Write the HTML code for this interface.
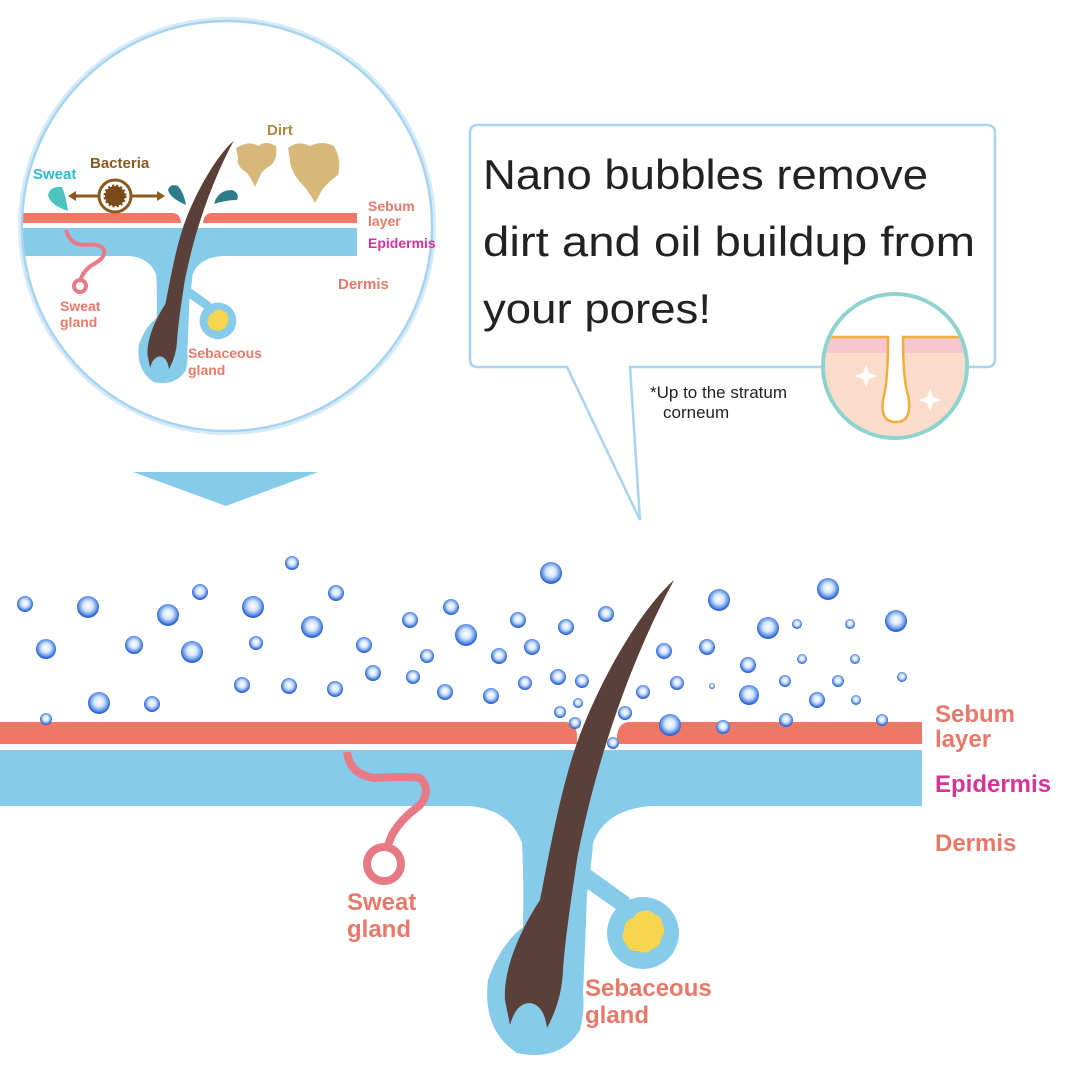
<!DOCTYPE html>
<html><head><meta charset="utf-8"><style>
html,body{margin:0;padding:0;background:#fff}
svg{display:block}
text{font-family:"Liberation Sans",sans-serif;font-weight:bold}
</style></head><body>
<svg width="1080" height="1080" viewBox="0 0 1080 1080" xmlns="http://www.w3.org/2000/svg">
<defs>
<radialGradient id="bub" cx="0.5" cy="0.45" r="0.5">
<stop offset="0" stop-color="#ffffff"/><stop offset="0.45" stop-color="#d6e6fa"/><stop offset="0.85" stop-color="#5a8fe6"/><stop offset="1" stop-color="#2f62d0"/>
</radialGradient>
<clipPath id="cc"><circle cx="227" cy="226" r="204"/></clipPath>
<clipPath id="sc"><circle cx="895" cy="366" r="70"/></clipPath>
<g id="foll">
<path d="M470 806 Q510 810 522 843 Q524 880 523 927 Q500 945 488 980 Q482 1030 517 1053 Q560 1062 580 1030 Q585 1010 583 993 Q585 950 587 893 Q592 860 593 843 Q605 810 650 806Z" fill="#87cbea"/>
<path d="M588 868 L630 898 L620 912 L586 888Z" fill="#87cbea"/>
<circle cx="643" cy="933" r="36" fill="#87cbea"/>
<path d="M640 912 q8 -4 14 2 q8 2 8 10 q5 8 -1 14 q0 9 -9 11 q-6 6 -14 2 q-9 1 -12 -7 q-6 -6 -2 -14 q0 -10 9 -12 q4 -6 7 -6z" fill="#f8d54e"/>
<path d="M674 580 C640 610 600 680 578 740 C560 790 548 860 540 900 C520 930 503 970 505 1000 L510 1025 Q516 1003 530 1003 Q544 1005 547 1028 Q562 1000 563 970 C565 940 571 900 577 860 C590 790 620 680 674 580Z" fill="#5a4038"/>
</g>
</defs>

<!-- top circle -->
<circle cx="227" cy="226" r="206" fill="none" stroke="#d6ebf9" stroke-width="6"/>
<circle cx="227" cy="226" r="205" fill="#fff" stroke="#a8d4f0" stroke-width="2.5"/>
<g clip-path="url(#cc)">
<path d="M0 213 H172 Q180 213 181 222 V223 H0Z" fill="#ee7766"/>
<path d="M203 223 Q204 213 212 213 H357 V223 H203Z" fill="#ee7766"/>
<rect x="0" y="228" width="357" height="28" fill="#87cbea"/>
<use href="#foll" transform="translate(-110,-155) scale(0.51)"/>
<path d="M66 230 Q70 245 85 245 Q100 243 104 250 Q106 258 92 265 Q82 272 80 282" fill="none" stroke="#e87a85" stroke-width="4"/>
<circle cx="80" cy="286" r="6" fill="#fff" stroke="#e87a85" stroke-width="4"/>
</g>
<path d="M68 211 Q50 205 48 195 Q50 186 62 187 Q66 196 68 211Z" fill="#4cc3c0"/>
<path d="M186 205 Q170 198 168 190 Q170 183 178 186 Q184 193 186 205Z" fill="#2d7c8a"/>
<path d="M214 204 Q218 190 232 190 Q240 193 237 200 Q226 200 214 204Z" fill="#2d7c8a"/>
<path d="M236 148 Q250 140 258 146 Q266 140 276 146 Q278 160 270 166 Q262 170 260 176 L255 187 Q250 176 246 172 Q236 166 238 158Z" fill="#d6b97a"/>
<path d="M288 148 Q298 140 310 146 Q322 140 334 146 Q342 160 338 175 Q328 182 322 190 L315 203 Q308 190 300 182 Q290 170 290 160Z" fill="#d6b97a"/>
<circle cx="115" cy="196" r="16" fill="#fff" stroke="#8a5a20" stroke-width="3"/>
<circle cx="115" cy="196" r="10" fill="#7a4a18" stroke="#7a4a18" stroke-width="3" stroke-dasharray="2 2"/>
<path d="M72 196 H98 M132 196 H160" stroke="#8a5a20" stroke-width="3"/>
<polygon points="68,196 76,191 76,201" fill="#8a5a20"/><polygon points="165,196 157,191 157,201" fill="#8a5a20"/>
<text x="267" y="135" font-size="15" fill="#b08a40">Dirt</text>
<text x="90" y="168" font-size="15" fill="#8a5a20">Bacteria</text>
<text x="33" y="179" font-size="15" fill="#2fb8d0">Sweat</text>
<text x="368" y="211" font-size="14" fill="#e8796a">Sebum</text>
<text x="368" y="226" font-size="14" fill="#e8796a">layer</text>
<text x="368" y="248" font-size="14" fill="#d63399">Epidermis</text>
<text x="338" y="289" font-size="15" fill="#e8796a">Dermis</text>
<text x="60" y="311" font-size="14" fill="#e8796a">Sweat</text>
<text x="60" y="327" font-size="14" fill="#e8796a">gland</text>
<text x="188" y="358" font-size="14" fill="#e8796a">Sebaceous</text>
<text x="188" y="375" font-size="14" fill="#e8796a">gland</text>

<polygon points="133,472 318,472 226,506" fill="#87cbea"/>

<!-- speech bubble -->
<path d="M567 367 H478 Q470 367 470 359 V133 Q470 125 478 125 H987 Q995 125 995 133 V359 Q995 367 987 367 H630 L640 520 Z" fill="#fff" stroke="#a8d4f0" stroke-width="2.5"/>
<text font-size="42" fill="#222" style="font-weight:normal"><tspan x="483" y="189" textLength="445" lengthAdjust="spacingAndGlyphs">Nano bubbles remove</tspan><tspan x="483" y="256" textLength="492" lengthAdjust="spacingAndGlyphs">dirt and oil buildup from</tspan><tspan x="483" y="323" textLength="228" lengthAdjust="spacingAndGlyphs">your pores!</tspan></text>
<text font-size="17" fill="#222" style="font-weight:normal"><tspan x="650" y="398">*Up to the stratum</tspan><tspan x="663" y="418">corneum</tspan></text>
<circle cx="895" cy="366" r="72" fill="#fff"/>
<g clip-path="url(#sc)">
<rect x="800" y="337" width="200" height="120" fill="#fcdccb"/>
<rect x="800" y="337" width="200" height="16" fill="#f7c6cf"/>
<path d="M800 337 H888 Q888 380 884 395 Q878 422 896 422 Q913 422 908 395 Q903 380 903 337 H1000" fill="#fff" stroke="#f2ae3c" stroke-width="2.5"/>
</g>
<circle cx="895" cy="366" r="72" fill="none" stroke="#8fd3cf" stroke-width="4"/>
<path d="M866 365 l3 8 l8 3 l-8 3 l-3 8 l-3 -8 l-8 -3 l8 -3z" fill="#fff"/>
<path d="M930 389 l3 8 l8 3 l-8 3 l-3 8 l-3 -8 l-8 -3 l8 -3z" fill="#fff"/>

<!-- main -->
<path d="M0 722 H565 Q576 722 577 735 V744 H0Z" fill="#ee7766"/>
<path d="M617 744 V735 Q619 722 630 722 H922 V744Z" fill="#ee7766"/>
<rect x="0" y="750" width="922" height="56" fill="#87cbea"/>
<path d="M347 752 Q350 775 375 778 Q410 776 420 778 Q432 790 420 805 Q400 820 392 835 L386 850" fill="none" stroke="#e87a85" stroke-width="8"/>
<circle cx="384" cy="864" r="17" fill="#fff" stroke="#e87a85" stroke-width="8"/>
<use href="#foll"/>

<g fill="url(#bub)">
<circle cx="25" cy="604" r="8"/><circle cx="88" cy="607" r="11"/><circle cx="168" cy="615" r="11"/><circle cx="200" cy="592" r="8"/><circle cx="253" cy="607" r="11"/><circle cx="292" cy="563" r="7"/><circle cx="336" cy="593" r="8"/><circle cx="551" cy="573" r="11"/><circle cx="719" cy="600" r="11"/><circle cx="828" cy="589" r="11"/><circle cx="896" cy="621" r="11"/><circle cx="46" cy="649" r="10"/><circle cx="134" cy="645" r="9"/><circle cx="192" cy="652" r="11"/><circle cx="256" cy="643" r="7"/><circle cx="312" cy="627" r="11"/><circle cx="364" cy="645" r="8"/><circle cx="410" cy="620" r="8"/><circle cx="451" cy="607" r="8"/><circle cx="466" cy="635" r="11"/><circle cx="518" cy="620" r="8"/><circle cx="566" cy="627" r="8"/><circle cx="606" cy="614" r="8"/><circle cx="664" cy="651" r="8"/><circle cx="707" cy="647" r="8"/><circle cx="768" cy="628" r="11"/><circle cx="797" cy="624" r="5"/><circle cx="850" cy="624" r="5"/><circle cx="748" cy="665" r="8"/><circle cx="802" cy="659" r="5"/><circle cx="855" cy="659" r="5"/><circle cx="242" cy="685" r="8"/><circle cx="289" cy="686" r="8"/><circle cx="335" cy="689" r="8"/><circle cx="373" cy="673" r="8"/><circle cx="413" cy="677" r="7"/><circle cx="427" cy="656" r="7"/><circle cx="445" cy="692" r="8"/><circle cx="491" cy="696" r="8"/><circle cx="525" cy="683" r="7"/><circle cx="499" cy="656" r="8"/><circle cx="532" cy="647" r="8"/><circle cx="558" cy="677" r="8"/><circle cx="582" cy="681" r="7"/><circle cx="643" cy="692" r="7"/><circle cx="677" cy="683" r="7"/><circle cx="712" cy="686" r="3"/><circle cx="749" cy="695" r="10"/><circle cx="785" cy="681" r="6"/><circle cx="838" cy="681" r="6"/><circle cx="902" cy="677" r="5"/><circle cx="99" cy="703" r="11"/><circle cx="152" cy="704" r="8"/><circle cx="46" cy="719" r="6"/><circle cx="560" cy="712" r="6"/><circle cx="578" cy="703" r="5"/><circle cx="575" cy="723" r="6"/><circle cx="625" cy="713" r="7"/><circle cx="670" cy="725" r="11"/><circle cx="723" cy="727" r="7"/><circle cx="786" cy="720" r="7"/><circle cx="817" cy="700" r="8"/><circle cx="856" cy="700" r="5"/><circle cx="882" cy="720" r="6"/><circle cx="613" cy="743" r="6"/>
</g>

<text x="935" y="722" font-size="24" fill="#e8796a">Sebum</text>
<text x="935" y="747" font-size="24" fill="#e8796a">layer</text>
<text x="935" y="792" font-size="24" fill="#d63399">Epidermis</text>
<text x="935" y="851" font-size="24" fill="#e8796a">Dermis</text>
<text x="347" y="910" font-size="24" fill="#e8796a">Sweat</text>
<text x="347" y="937" font-size="24" fill="#e8796a">gland</text>
<text x="585" y="996" font-size="24" fill="#e8796a">Sebaceous</text>
<text x="585" y="1023" font-size="24" fill="#e8796a">gland</text>
</svg>
</body></html>
